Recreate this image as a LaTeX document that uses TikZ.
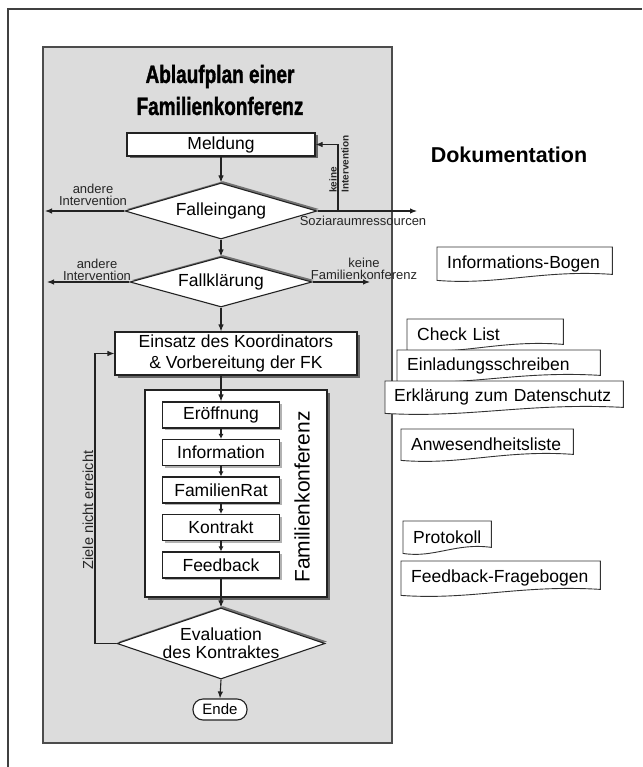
\documentclass[tikz,border=0pt]{standalone}
\usepackage{fontspec}
\setmainfont{Liberation Sans}
\newfontfamily\titlefont[FakeBold=1.6]{Liberation Sans}
\usepackage{graphicx}
\usetikzlibrary{shapes.geometric,arrows.meta,calc,shadows}
\pgfdeclarelayer{panel}
\pgfdeclarelayer{docbg}
\pgfsetlayers{panel,docbg,main}
\definecolor{panelgray}{HTML}{DCDCDC}
\definecolor{ink}{HTML}{222222}
\tikzset{
  base/.style={font=\fontsize{17.5}{20}\selectfont, inner sep=0pt, text=black},
  box/.style={base, rectangle, draw=ink, line width=1.1pt, fill=white},
  sh/.style={general shadow={fill=black!60, shadow xshift=2.5pt, shadow yshift=-2.5pt}},
  lsh/.style={general shadow={fill=black!30, shadow xshift=2pt, shadow yshift=-2pt}},
  dia/.style={base, shape=diamond, aspect=3.5, draw=ink, line width=1.1pt, fill=white, align=center},
  dsh/.style={general shadow={fill=black!55, shadow xshift=2pt, shadow yshift=2pt}},
  arr/.style={-{Latex[length=7pt,width=5.5pt]}, line width=1.1pt, draw=ink},
  sarr/.style={-{Latex[length=5pt,width=5pt]}, line width=1.1pt, draw=ink},
  lbl/.style={font=\fontsize{13}{12}\selectfont, inner sep=0pt, align=center, text=black!85},
  docnode/.style={base, anchor=north west, inner xsep=10pt, inner ysep=0pt, align=left},
  docline/.style={draw=black!80, line width=0.9pt, fill=white}
}
\newcommand\docframe[1]{%
  \begin{pgfonlayer}{docbg}
  \draw[docline] (#1.south west) -- (#1.north west) -- (#1.north east)
    -- ($(#1.south east)+(0pt,6pt)$)
    .. controls ($(#1.south west)!0.6!(#1.south east)+(0pt,11pt)$)
    and ($(#1.south west)!0.35!(#1.south east)+(0pt,-5pt)$) .. (#1.south west) -- cycle;
  \end{pgfonlayer}}
\begin{document}
\begin{tikzpicture}[x=1pt,y=-1pt]
\useasboundingbox (0,0) rectangle (642,767);
\begin{pgfonlayer}{panel}
  \fill[white] (0,0) rectangle (642,767);
  \draw[black!75, line width=1.5pt] (8,767) -- (8,9) -- (642,9);
  \draw[fill=panelgray, draw=black!70, line width=1.6pt] (43,47) rectangle (392,743);
\end{pgfonlayer}

% title
\node[font=\titlefont\bfseries\fontsize{25}{32}\selectfont, align=center, inner sep=0pt] (title) at (220,90)
  {\scalebox{0.76}[1]{Ablaufplan einer}\\\scalebox{0.76}[1]{Familienkonferenz}};

% flow nodes
\node[box, sh, minimum width=188pt, minimum height=23pt] (meld) at (221,144.5) {Meldung};
\node[dia, dsh, minimum width=192pt, minimum height=56pt] (fe) at (221,211) {Falleingang};
\node[dia, dsh, minimum width=182pt, minimum height=50pt] (fk) at (221,282) {Fallkl\"arung};
\node[box, sh, minimum width=242pt, minimum height=43pt, align=center,
      font=\fontsize{17.5}{21}\selectfont] (eins) at (236,353.5)
      {Einsatz des Koordinators\\\& Vorbereitung der FK};
\node[box, sh, minimum width=182pt, minimum height=207pt] (fkbox) at (236,493.5) {};
\node[base, rotate=90, font=\fontsize{21}{24}\selectfont] (fklabel) at (302,497) {Familienkonferenz};

\node[box, lsh, minimum width=117pt, minimum height=26pt] (er) at (221,415) {Er\"offnung};
\node[box, lsh, minimum width=117pt, minimum height=26pt] (inf) at (221,452.5) {Information};
\node[box, lsh, minimum width=117pt, minimum height=26pt] (rat) at (221,490) {FamilienRat};
\node[box, lsh, minimum width=117pt, minimum height=26pt] (kon) at (221,527.5) {Kontrakt};
\node[box, lsh, minimum width=117pt, minimum height=26pt] (fb) at (221,565) {Feedback};

\node[dia, dsh, minimum width=208pt, minimum height=71pt,
      label={[font=\fontsize{17.5}{18}\selectfont, align=center, inner sep=0pt]center:Evaluation\\des Kontraktes}]
      (eval) at (221,643.5) {};
\node[box, rounded corners=10pt, minimum width=54pt, minimum height=21pt,
      font=\fontsize{15}{18}\selectfont] (ende) at (220,709.5) {Ende};

% connectors
\draw[arr] (meld.south) -- (fe.north);
\draw[arr] (fe.south) -- (fk.north);
\draw[arr] (fk.south) -- (fk.south |- eins.north);
\draw[arr] (eins.south -| er.north) -- (er.north);
\draw[sarr] (er.south) -- (inf.north);
\draw[sarr] (inf.south) -- (rat.north);
\draw[sarr] (rat.south) -- (kon.north);
\draw[sarr] (kon.south) -- (fb.north);
\draw[arr] (fb.south) -- (eval.north);
\draw[arr] (eval.south) -- (ende.north);

\coordinate (feL) at (45,211);
\coordinate (feR) at (417,211);
\coordinate (kI) at (338,211);
\coordinate (fkL) at (47,282);
\coordinate (fkR) at (370,282);
\coordinate (lp) at (95,643.5);
\draw[arr] (fe.west) -- (feL);
\draw[arr] (fe.east) -- (feR);
\draw[arr] (kI) |- (meld.east);
\draw[arr] (fk.west) -- (fkL);
\draw[arr] (fk.east) -- (fkR);
\draw[arr] (eval.west) -- (lp) |- (eins.west);

% labels
\node[lbl] (l1) at (93,195) {andere\\Intervention};
\node[lbl] (l2) at (363,221) {Soziaraumressourcen};
\node[lbl, rotate=90, align=left, font=\bfseries\fontsize{10}{12}\selectfont] (l3) at (339,164) {keine\\Intervention};
\node[lbl] (l4) at (97,270) {andere\\Intervention};
\node[lbl] (l5) at (364,268.5) {keine\\Familienkonferenz};
\node[lbl, rotate=90, font=\fontsize{14.5}{16}\selectfont] (l6) at (88,510) {Ziele nicht erreicht};

% documentation
\node[font=\bfseries\fontsize{21.5}{24}\selectfont, inner sep=0pt] (dok) at (509,155) {Dokumentation};

\node[docnode, text width=155pt, minimum height=33pt] (d1) at (437,247) {\mbox{Informations-Bogen}};
\docframe{d1}
\node[docnode, text width=136pt, minimum height=31pt] (d2) at (407,319) {\mbox{Check List}};
\docframe{d2}
\node[docnode, text width=183pt, minimum height=31pt] (d3) at (397,350) {\mbox{Einladungsschreiben}};
\docframe{d3}
\node[docnode, inner xsep=9pt, text width=220pt, minimum height=32pt] (d4) at (385,381) {\mbox{Erkl\"arung zum Datenschutz}};
\docframe{d4}
\node[docnode, text width=152pt, minimum height=31pt] (d5) at (401,429) {\mbox{Anwesendheitsliste}};
\docframe{d5}
\node[docnode, text width=68pt, minimum height=32pt] (d6) at (403,521) {\mbox{Protokoll}};
\docframe{d6}
\node[docnode, text width=179pt, minimum height=34pt] (d7) at (401,561) {\mbox{Feedback-Fragebogen}};
\docframe{d7}
\end{tikzpicture}
\end{document}
